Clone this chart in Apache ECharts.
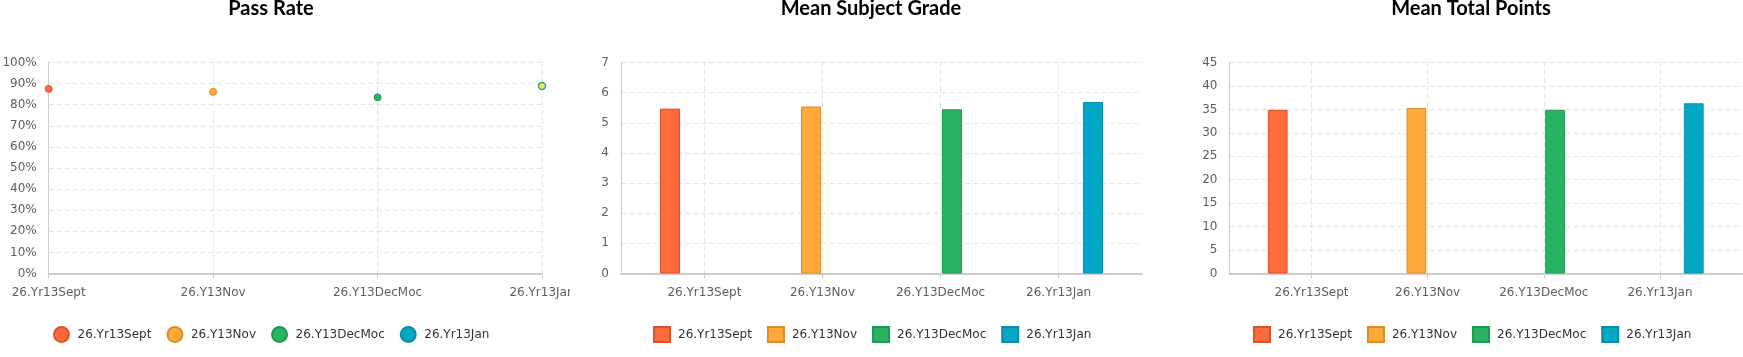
<!DOCTYPE html>
<html><head><meta charset="utf-8">
<script src="https://cdn.jsdelivr.net/npm/echarts@6/dist/echarts.min.js"></script>
<style>
html,body{margin:0;padding:0;width:1743px;height:357px;overflow:hidden;background:#fff;}
.c{position:absolute;top:0;width:572px;height:357px;}
</style></head><body>
<div id="c1" class="c" style="left:0;width:570px"></div>
<div id="c2" class="c" style="left:600px"></div>
<div id="c3" class="c" style="left:1200px"></div>
<script>
// ---- data ----
const categories = ['26.Yr13Sept', '26.Y13Nov', '26.Y13DecMoc', '26.Yr13Jan'];
const passRate = [87.5, 86.1, 83.5, 88.9];
const meanSubjectGrade = [5.47, 5.54, 5.45, 5.69];
const meanTotalPoints = [34.9, 35.3, 34.9, 36.3];
const titles = ['Pass Rate', 'Mean Subject Grade', 'Mean Total Points'];
const passRateAxis = { min: 0, max: 100, interval: 10 };
const gradeAxis = { min: 0, max: 7, interval: 1 };
const pointsAxis = { min: 0, max: 45, interval: 5 };
const highlightedPoint = 3;

// ---- styles ----
const colors = ['#ff6a3b', '#ffa83c', '#28b463', '#03a7c6'];
const borders = ['#d9542c', '#de8c2a', '#1f9a52', '#0a8ea8'];
const FONT = 'DejaVu Sans';
const LABEL = '#5e5e5e';
const AXIS = '#cccccc';
const SPLIT = { show: true, lineStyle: { color: '#e2e2e2', width: 1, type: [5, 3] } };
const TOP = 62.5, BOTTOM = 83.5;

function title(text) {
  return { text, left: 266, textAlign: 'center', top: -6,
    textStyle: { fontFamily: 'Lato', fontWeight: 'bold', fontSize: 20, color: '#000' } };
}
function legend(icon) {
  return { data: categories, left: 48, top: 321, icon, itemWidth: 16, itemHeight: 15, itemGap: 15,
    itemStyle: { opacity: 1 },
    textStyle: { fontFamily: FONT, fontSize: 12, color: '#333', padding: [0, 0, 0, 3] } };
}
function gridOf(left, right) {
  return { left, right, top: TOP, bottom: BOTTOM, containLabel: false, outerBoundsMode: 'none' };
}
function yAxis(ax, fmt, gridIndex) {
  return { type: 'value', gridIndex: gridIndex || 0, min: ax.min, max: ax.max, interval: ax.interval,
    axisLine: { show: true, lineStyle: { color: AXIS, width: 1 } },
    axisTick: { show: false },
    axisLabel: { formatter: fmt, margin: 12, color: LABEL, fontFamily: FONT, fontSize: 12 },
    splitLine: SPLIT };
}
const labelAxisBase = {
  type: 'category', data: categories, boundaryGap: false,
  axisTick: { show: true, length: 5, lineStyle: { color: AXIS } },
  axisLabel: { margin: 13, color: LABEL, fontFamily: FONT, fontSize: 12 },
  splitLine: SPLIT
};

// ---- Pass Rate ----
const c1 = echarts.init(document.getElementById('c1'));
c1.setOption({
  animation: false,
  title: title(titles[0]),
  legend: legend('circle'),
  grid: gridOf(48.7, 28),
  xAxis: Object.assign({}, labelAxisBase, { axisLine: { show: true, lineStyle: { color: AXIS, width: 2 } } }),
  yAxis: yAxis(passRateAxis, '{value}%'),
  series: categories.map((name, j) => ({
    type: 'scatter', name, symbolSize: 7,
    itemStyle: { color: colors[j], borderColor: borders[j], borderWidth: 1, opacity: 1 },
    data: [ j === highlightedPoint
      ? { value: [j, passRate[j]], itemStyle: { color: '#f2f23a', borderColor: '#2f9fb6', borderWidth: 1.5, opacity: 1 } }
      : [j, passRate[j]] ]
  }))
});

// ---- bar charts ----
function barChart(el, name, values, ax, left, labLeft, labRight) {
  const ch = echarts.init(document.getElementById(el));
  ch.setOption({
    animation: false,
    title: title(name),
    legend: legend('rect'),
    grid: [ gridOf(left, 30), gridOf(labLeft, labRight) ],
    xAxis: [
      { type: 'category', gridIndex: 0, data: categories,
        axisLine: { show: true, lineStyle: { color: AXIS, width: 2 } },
        axisTick: { show: false }, axisLabel: { show: false }, splitLine: { show: false } },
      Object.assign({}, labelAxisBase, { gridIndex: 1, axisLine: { show: false } })
    ],
    yAxis: [ yAxis(ax, '{value}', 0),
      { type: 'value', gridIndex: 1, min: ax.min, max: ax.max, show: false } ],
    series: categories.map((sname, j) => ({
      type: 'bar', name: sname, xAxisIndex: 0, yAxisIndex: 0,
      barWidth: '15.4%', barGap: '-46.5%',
      itemStyle: { color: colors[j], borderColor: borders[j], borderWidth: 1, opacity: 1 },
      data: [[j, values[j]]]
    }))
  });
}
barChart('c2', titles[1], meanSubjectGrade, gradeAxis, 21, 104.4, 113.4);
barChart('c3', titles[2], meanTotalPoints, pointsAxis, 29.5, 111.5, 112);
</script>
</body></html>
